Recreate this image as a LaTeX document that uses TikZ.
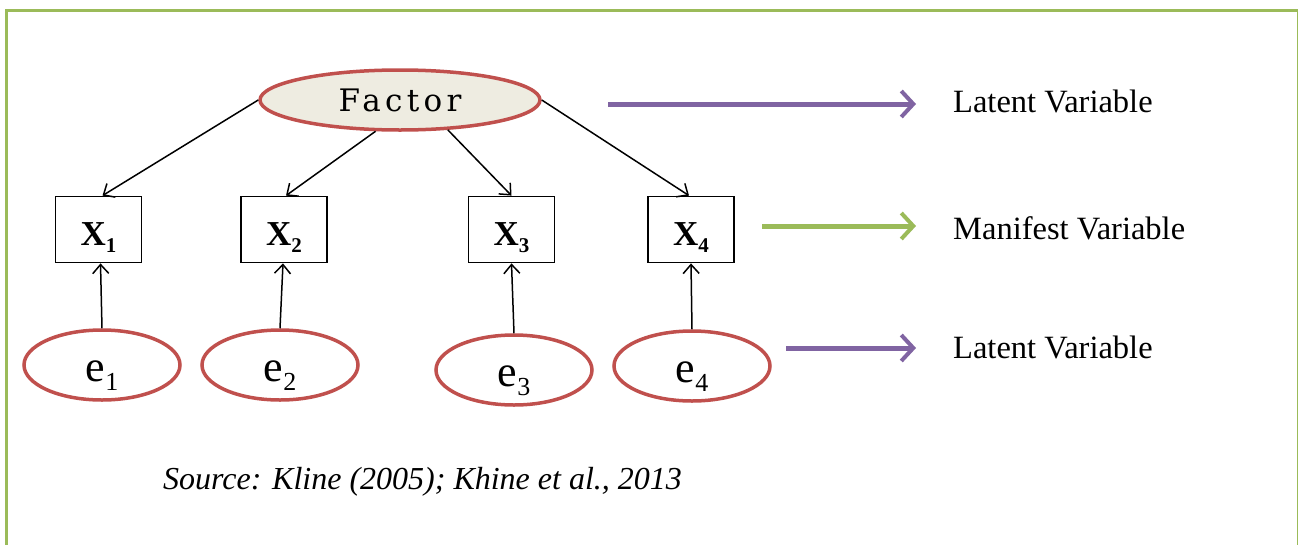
\documentclass[tikz,border=0pt]{standalone}
\usepackage{fontspec}
\setmainfont{Liberation Serif}
\newfontfamily\factorfont[LetterSpace=14]{DejaVu Serif}
\usetikzlibrary{shapes.geometric,arrows.meta,calc}

\definecolor{frameGreen}{HTML}{9BBB59}
\definecolor{borderRed}{HTML}{C0504D}
\definecolor{tanFill}{HTML}{EEECE1}
\definecolor{legendPurple}{HTML}{8064A2}

\tikzset{
  latentbig/.style={ellipse, draw=borderRed, line width=3.5pt, fill=tanFill,
    minimum width=280pt, minimum height=60pt, inner sep=0pt},
  errnode/.style={ellipse, draw=borderRed, line width=3.5pt, fill=white,
    minimum width=156pt, minimum height=70pt, inner sep=0pt,
    text height=32pt, text depth=0pt},
  obsbox/.style={rectangle, draw=black, line width=1.8pt, fill=white,
    minimum width=86pt, minimum height=66pt, inner sep=0pt,
    text height=31pt, text depth=0pt},
  path/.style={draw=black, line width=1.5pt,
    -{Straight Barb[length=9pt,width=16pt,line width=1.5pt]}},
  legendarrow/.style={line width=5pt,
    -{Straight Barb[length=12pt,width=26pt,line width=4pt]}},
  legendtext/.style={anchor=base west, inner sep=0pt,
    font=\fontsize{32.5}{32.5}\selectfont},
}

% bold X with a lowered index
\newcommand{\obsvar}[1]{\fontsize{35}{35}\selectfont\bfseries X\raisebox{-7pt}{\fontsize{21}{21}\selectfont #1}}
% error term e with a lowered index
\newcommand{\errvar}[1]{\fontsize{44}{44}\selectfont e\raisebox{-9pt}{\fontsize{26}{26}\selectfont #1}}

\begin{document}
\begin{tikzpicture}[x=1pt,y=-1pt]
  \useasboundingbox (0,0) rectangle (1299,544);

  % frame
  \draw[frameGreen, line width=3pt] (6.5,560) -- (6.5,10.5) -- (1297.5,10.5);
  \draw[frameGreen, line width=1.5pt] (1297.5,10.5) -- (1297.5,560);

  % factor
  \node[latentbig] (F) at (400,100) {\factorfont\fontsize{31}{31}\selectfont Factor};

  % indicators
  \node[obsbox] (X1) at (98.5,229.5) {\obsvar{1}};
  \node[obsbox] (X2) at (284,229.5) {\obsvar{2}};
  \node[obsbox] (X3) at (511.5,229.5) {\obsvar{3}};
  \node[obsbox] (X4) at (691,229.5) {\obsvar{4}};

  % error terms
  \node[errnode] (E1) at (102,365) {\errvar{1}};
  \node[errnode] (E2) at (280,365) {\errvar{2}};
  \node[errnode] (E3) at (514,370) {\errvar{3}};
  \node[errnode] (E4) at (692,366) {\errvar{4}};

  % loadings
  \draw[path] (F.west) -- ($(X1.north)+(4,0)$);
  \draw[path] (F.232) -- ($(X2.north)+(2,0)$);
  \draw[path] (F.328) -- (X3.north);
  \draw[path] (F.east) -- ($(X4.north)+(-2,0)$);

  % error paths
  \draw[path] (E1.north) -- ($(X1.south)+(2,0)$);
  \draw[path] (E2.north) -- ($(X2.south)+(-1,0)$);
  \draw[path] (E3.north) -- (X3.south);
  \draw[path] (E4.north) -- (X4.south);

  % legend
  \coordinate (L1s) at (608,104);
  \coordinate (L1e) at (916,104);
  \coordinate (L2s) at (762,226);
  \coordinate (L2e) at (916,226);
  \coordinate (L3s) at (786,348);
  \coordinate (L3e) at (916,348);
  \draw[legendarrow, legendPurple] (L1s) -- (L1e);
  \draw[legendarrow, frameGreen] (L2s) -- (L2e);
  \draw[legendarrow, legendPurple] (L3s) -- (L3e);

  \node[legendtext] (T1) at (953,112) {Latent Variable};
  \node[legendtext] (T2) at (953,239) {Manifest Variable};
  \node[legendtext] (T3) at (953,358) {Latent Variable};

  % source line
  \node[anchor=base west, inner sep=0pt, font=\fontsize{32}{32}\selectfont\itshape]
    (src) at (163,489) {Source: Kline (2005); Khine et al., 2013};
\end{tikzpicture}
\end{document}
